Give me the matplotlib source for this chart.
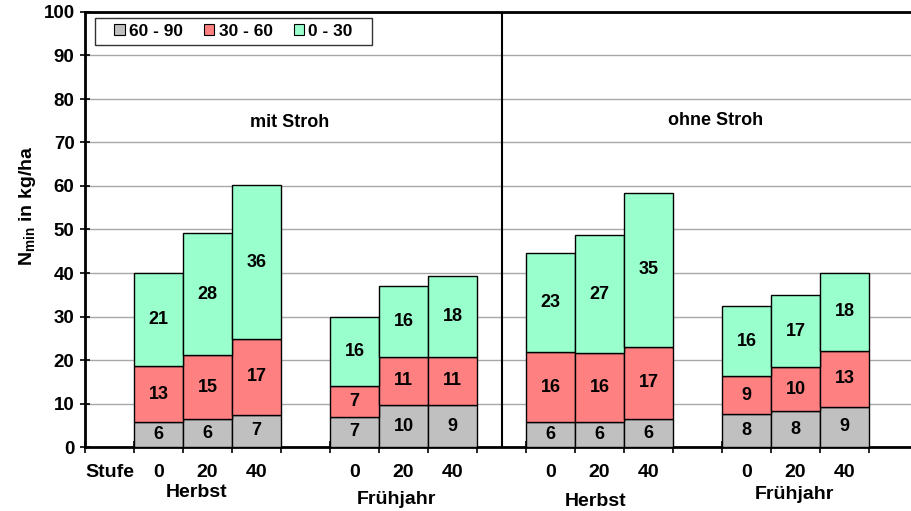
import matplotlib
matplotlib.use("Agg")
import matplotlib.pyplot as plt
from matplotlib.patches import Patch, Rectangle
import numpy as np

plt.rcParams['font.family'] = ['Liberation Sans', 'DejaVu Sans']
plt.rcParams['font.weight'] = 'bold'
plt.rcParams['mathtext.fontset'] = 'custom'
plt.rcParams['mathtext.rm'] = 'Liberation Sans:bold'
plt.rcParams['mathtext.bf'] = 'Liberation Sans:bold'

# bar slots (gaps between the four groups)
slots = [1, 2, 3, 5, 6, 7, 9, 10, 11, 13, 14, 15]
stufe = ["0", "20", "40"] * 4
groups = ["Herbst", "Frühjahr", "Herbst", "Frühjahr"]

# segment heights
h_60_90 = [5.7, 6.4, 7.4, 7.0, 9.6, 9.6, 5.7, 5.7, 6.4, 7.5, 8.2, 9.2]
h_30_60 = [12.9, 14.7, 17.4, 7.0, 11.2, 11.2, 16.1, 15.8, 16.7, 8.9, 10.1, 12.9]
h_0_30 = [21.4, 28.1, 35.4, 15.9, 16.1, 18.5, 22.9, 27.2, 35.4, 15.9, 16.6, 18.0]

# printed values
lab_60_90 = [6, 6, 7, 7, 10, 9, 6, 6, 6, 8, 8, 9]
lab_30_60 = [13, 15, 17, 7, 11, 11, 16, 16, 17, 9, 10, 13]
lab_0_30 = [21, 28, 36, 16, 16, 18, 23, 27, 35, 16, 17, 18]

colors = ["#C0C0C0", "#FF8080", "#99FFCC"]
names = ["60 - 90", "30 - 60", "0 - 30"]

fig = plt.figure(figsize=(9.11, 5.11), dpi=100)
ax = fig.add_axes([85 / 911, 64 / 511, 826 / 911, 435 / 511])

x = np.array(slots) + 0.5
bottom = np.zeros(len(x))
for h, lab, c in zip([h_60_90, h_30_60, h_0_30], [lab_60_90, lab_30_60, lab_0_30], colors):
    ax.bar(x, h, width=1.0, bottom=bottom, color=c, edgecolor="black", linewidth=1.0, zorder=3)
    for xi, b, hi, l in zip(x, bottom, h, lab):
        ax.text(xi, b + hi / 2, str(l), ha="center", va="center", fontsize=13,
                fontweight="bold", zorder=4)
    bottom = bottom + np.array(h)

ax.set_ylim(0, 100)
ax.set_xlim(0, 826 / 49)
ax.set_yticks(range(0, 101, 10))
ax.set_xticks(range(0, 17))
ax.set_xticklabels([])
ax.tick_params(axis="y", labelsize=13.5, length=7, width=1.2, direction="inout", pad=4)
ax.tick_params(axis="x", length=9, width=1.2, direction="inout")
for t in ax.get_yticklabels():
    t.set_fontweight("bold")
ax.yaxis.grid(True, color="#a8a8a8", linewidth=1.0, zorder=0)
ax.set_axisbelow(True)

for s in ["left", "bottom", "top"]:
    ax.spines[s].set_linewidth(2)
    ax.spines[s].set_color("black")
ax.spines["right"].set_visible(False)

# divider between mit / ohne Stroh
ax.axvline(8.5, color="black", linewidth=1.5, zorder=2)

ax.text(0.248, 0.745, "mit Stroh", transform=ax.transAxes, ha="center", va="center",
        fontsize=13, fontweight="bold")
ax.text(0.763, 0.75, "ohne Stroh", transform=ax.transAxes, ha="center", va="center",
        fontsize=13, fontweight="bold")

# x labels
for xi, s in zip(x, stufe):
    ax.annotate(s, (xi, 0), xytext=(0, -18), textcoords="offset points", ha="center",
                va="center", fontsize=14, fontweight="bold", annotation_clip=False)
ax.annotate("Stufe", (0.5, 0), xytext=(0, -18), textcoords="offset points", ha="center",
            va="center", fontsize=14, fontweight="bold", annotation_clip=False)
grp_dy = [-33, -37.5, -39.5, -34.5]
grp_dx = [-8, -5, -3, -1]
for i, g in enumerate(groups):
    xc = x[3 * i + 1]
    ax.annotate(g, (xc, 0), xytext=(grp_dx[i], grp_dy[i]), textcoords="offset points",
                ha="center", va="center", fontsize=14, fontweight="bold",
                annotation_clip=False)

ax.set_ylabel(r"N$_{\mathrm{min}}$ in kg/ha", fontsize=14, fontweight="bold")
ax.yaxis.set_label_coords(-0.057, 0.555)

# legend box drawn separately, entries centred inside it
ax.add_patch(Rectangle((0.0121, 0.924), 0.3354, 0.062, transform=ax.transAxes,
                       facecolor="white", edgecolor="#333333", linewidth=1.0, zorder=5))
handles = [Patch(facecolor=c, edgecolor="black", linewidth=0.8) for c in colors]
leg = ax.legend(handles, names, ncol=3, loc="center", bbox_to_anchor=(0.1798, 0.955),
                fontsize=12.5, frameon=False, handlelength=0.6, handleheight=0.6,
                handletextpad=0.25, columnspacing=1.2, borderpad=0.0, borderaxespad=0.0)
leg.set_zorder(6)
for t in leg.get_texts():
    t.set_fontweight("bold")

fig.savefig("out.png", dpi=100)
